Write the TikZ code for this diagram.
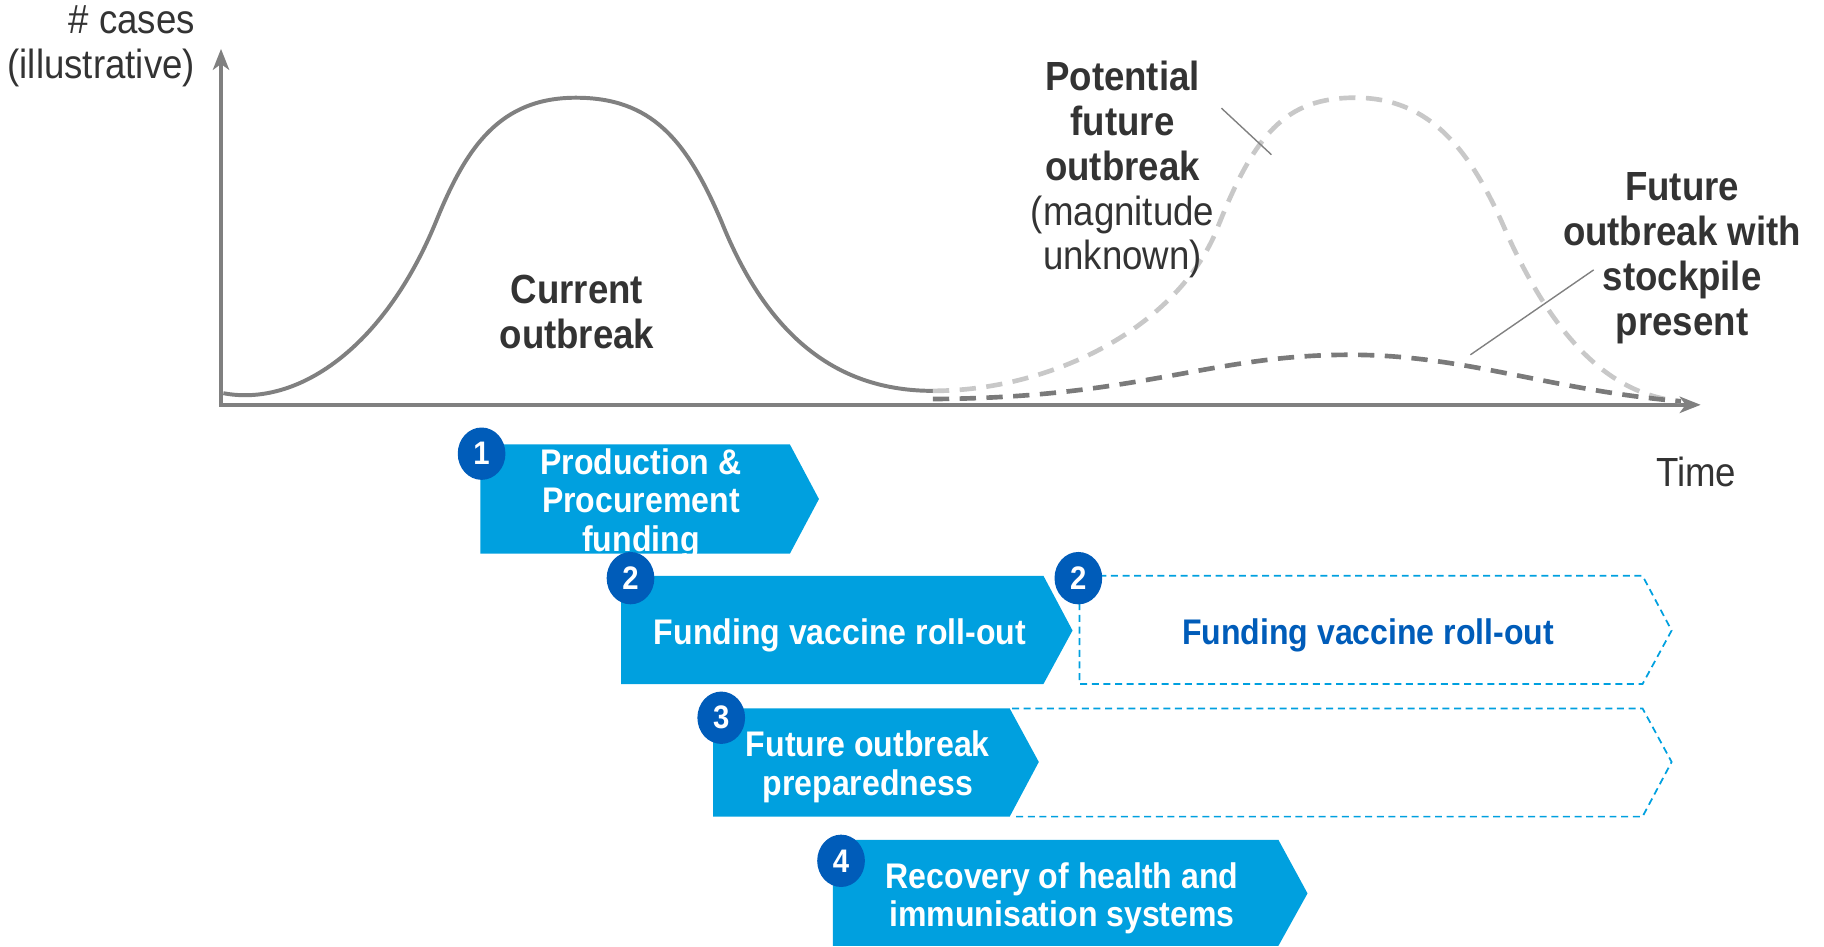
\documentclass[tikz,border=0pt]{standalone}
\usepackage{fontspec}
\setmainfont{Liberation Sans}[FakeStretch=0.9]
\usetikzlibrary{arrows.meta,shapes.geometric}
\definecolor{axisgray}{RGB}{128,128,128}
\definecolor{lightdash}{RGB}{200,200,200}
\definecolor{darkdash}{RGB}{122,122,122}
\definecolor{txt}{RGB}{51,51,51}
\definecolor{boxblue}{RGB}{0,160,223}
\definecolor{badgeblue}{RGB}{0,92,185}
\begin{document}
\begin{tikzpicture}[x=0.5pt,y=-0.5pt,
  axis/.style={draw=axisgray,line width=1.7pt,line join=miter},
  curve/.style={draw=axisgray,line width=1.7pt},
  lightcurve/.style={draw=lightdash,line width=2pt,dash pattern=on 7pt off 4.5pt},
  darkcurve/.style={draw=darkdash,line width=2pt,dash pattern=on 7pt off 4.5pt},
  leader/.style={draw=axisgray,line width=0.6pt},
  lbl/.style={text=txt,font=\fontsize{17.5}{19.25}\selectfont,align=center,inner sep=0pt},
  lblb/.style={lbl,font=\fontsize{17.5}{19.25}\selectfont\bfseries},
  chev/.style={fill=boxblue},
  dchev/.style={draw=boxblue,line width=0.75pt,dash pattern=on 3pt off 2pt},
  boxtext/.style={text=white,font=\fontsize{15.3}{16.5}\selectfont\bfseries,align=center,inner sep=0pt},
  dboxtext/.style={boxtext,text=badgeblue},
  badge/.style={ellipse,fill=badgeblue,text=white,minimum width=20.5pt,minimum height=22.5pt,inner sep=0pt,font=\fontsize{14}{14}\selectfont\bfseries}
]
\useasboundingbox (0,0) rectangle (1568,814);

% axes
\coordinate (ytip) at (190,42);
\coordinate (O) at (190,348);
\coordinate (xtip) at (1462,348);
\draw[axis,{Stealth[length=9pt,width=7pt,inset=2.5pt]}-{Stealth[length=9pt,width=7pt,inset=2.5pt]}] (ytip) -- (O) -- (xtip);

% current outbreak
\draw[curve] (192,338) .. controls (255,350) and (330,300) .. (375,190)
  .. controls (401,126) and (430,84) .. (495,84)
  .. controls (560,84) and (590,120) .. (620,190)
  .. controls (660,290) and (720,336) .. (802,336);
% potential future outbreak
\draw[lightcurve] (802,336) .. controls (900,336) and (1008,285) .. (1045,200)
  .. controls (1078,115) and (1105,84) .. (1165,84)
  .. controls (1230,84) and (1265,130) .. (1295,200)
  .. controls (1340,300) and (1390,340) .. (1445,345);
% future outbreak with stockpile
\draw[darkcurve] (802,343) .. controls (980,342) and (1040,305) .. (1160,305)
  .. controls (1260,305) and (1330,335) .. (1445,345);

% labels
\node[lbl,anchor=east,align=right] (ylab) at (168,40) {\# cases\\(illustrative)};
\node[lblb] (cur) at (496,268) {Current\\outbreak};
\node[lbl] (pot) at (965,146) {\textbf{Potential}\\\textbf{future}\\\textbf{outbreak}\\(magnitude\\unknown)};
\node[lblb] (fut) at (1446,222) {Future\\outbreak with\\stockpile\\present};
\node[lbl] (time) at (1458,406) {Time};

\coordinate (potA) at (1050,93);
\coordinate (potB) at (1093,133);
\draw[leader] (potA) -- (potB);
\coordinate (futA) at (1370,232);
\coordinate (futB) at (1264,305);
\draw[leader] (futA) -- (futB);

% dashed (future) chevrons
\draw[dchev] (945,495) -- (1412,495) -- (1437,542) -- (1412,588) -- (928,588) -- (928,515);
\draw[dchev] (870,609) -- (1412,609) -- (1437,655) -- (1412,702) -- (870,702);

% filled chevrons
\fill[chev] (413,382) -- (679,382) -- (704,429) -- (679,476) -- (413,476) -- cycle;
\fill[chev] (534,495) -- (897,495) -- (922,542) -- (897,588) -- (534,588) -- cycle;
\fill[chev] (613,609) -- (868,609) -- (893,655) -- (868,702) -- (613,702) -- cycle;
\fill[chev] (716,722) -- (1099,722) -- (1124,768) -- (1099,813) -- (716,813) -- cycle;

% box texts
\node[boxtext] (t1) at (551,433) {Production \&\\Procurement\\funding};
\node[boxtext] (t2) at (722,546) {Funding vaccine roll-out};
\node[dboxtext] (t2b) at (1176,546) {Funding vaccine roll-out};
\node[boxtext] (t3) at (746,659) {Future outbreak\\preparedness};
\node[boxtext] (t4) at (913,772) {Recovery of health and\\immunisation systems};

% badges
\node[badge] (b1) at (414,390) {1};
\node[badge] (b2) at (542,497) {2};
\node[badge] (b2b) at (927,497) {2};
\node[badge] (b3) at (620,617) {3};
\node[badge] (b4) at (723,740) {4};
\end{tikzpicture}
\end{document}
